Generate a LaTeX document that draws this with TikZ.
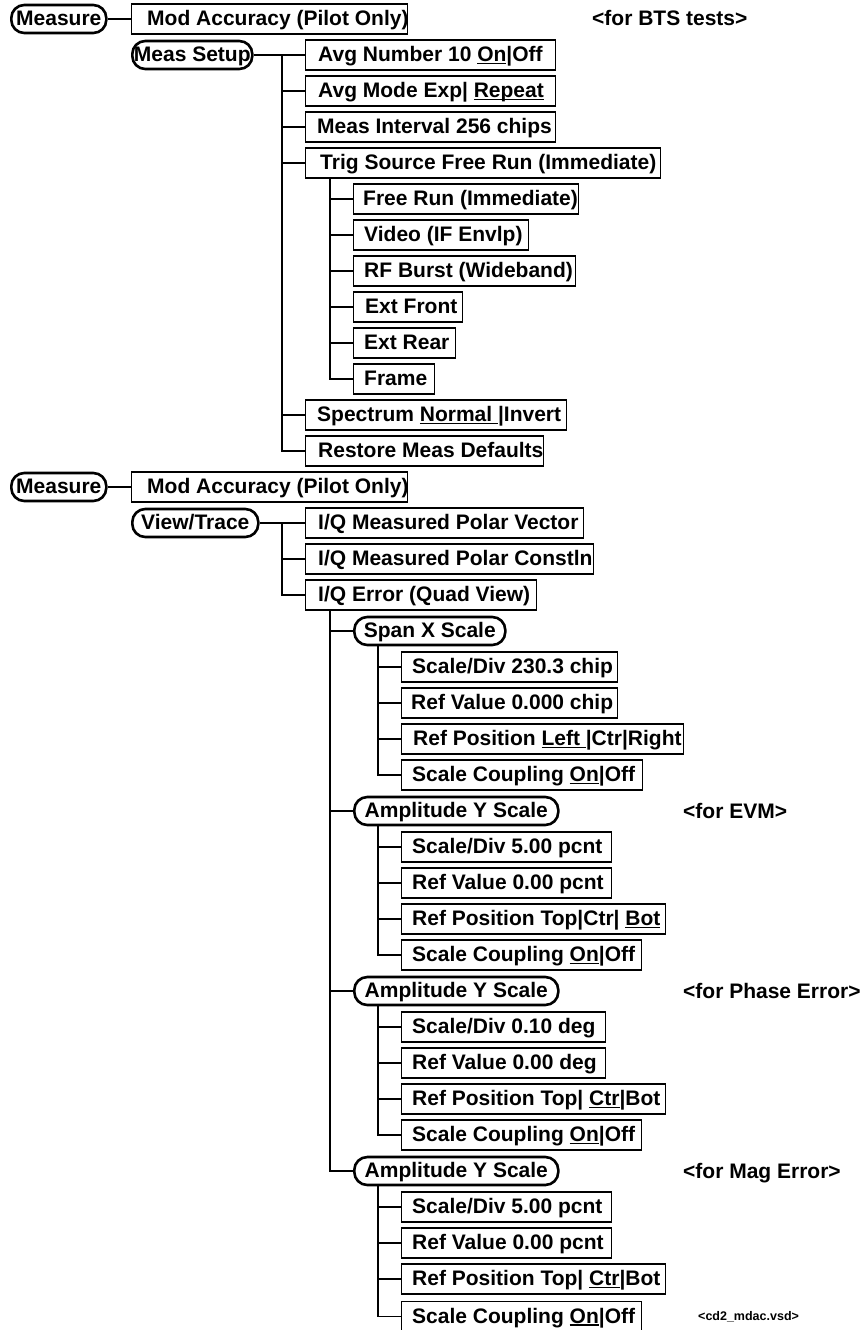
\documentclass[tikz,border=0pt]{standalone}
\usepackage{fontspec}
\setmainfont{Liberation Sans}

% underline with a fixed rule below the baseline
\newcommand\uln[1]{\setbox0\hbox{#1}\rlap{\rule[-2.6pt]{\wd0}{1.2pt}}\box0}

% square menu item: [text inset]{name}{left x}{right x}{centre y}{text}
\newcommand\mitem[6][12]{%
  \node[box, minimum width={#4-#3}] (#2) at (#3,#5) {};
  \node[txt] (#2-t) at ([xshift=#1pt,yshift=-6.5pt]#2.west) {#6};}

% rounded menu key: {name}{left x}{right x}{centre y}{text}
\newcommand\mpill[5]{%
  \node[pill, minimum width={#3-#2}] (#1) at (#2,#4) {#5};}

\begin{document}
\begin{tikzpicture}[x=1pt,y=-1pt,
  font=\fontsize{21}{24}\selectfont\bfseries,
  box/.style={draw, line width=1.3pt, minimum height=30pt, inner sep=0pt, anchor=west},
  pill/.style={draw, line width=2.6pt, rounded corners=13pt, minimum height=28pt,
               inner sep=0pt, anchor=west, text height=14pt, text depth=1pt},
  txt/.style={anchor=base west, inner sep=0pt},
  note/.style={anchor=base west, inner sep=0pt},
  wire/.style={line width=1.3pt}]
\useasboundingbox (0,0) rectangle (864,1330);
\clip (0,0) rectangle (864,1330);

% ---------- Measure / Meas Setup ----------
\mpill{m1}{10}{105}{19}{Measure}
\mitem[16]{mod1}{131}{407}{19}{Mod Accuracy (Pilot Only)}
\node[note] (bts) at (592,26) {<for BTS tests>};

\mpill{setup}{131}{251}{55}{Meas Setup}
\mitem[13]{avgn}{305}{555}{55}{Avg Number 10 \uln{On}|Off}
\mitem[13]{avgm}{305}{555}{91}{Avg Mode Exp| \uln{Repeat}}
\mitem[12]{intv}{305}{555}{127}{Meas Interval 256 chips}
\mitem[15]{trig}{305}{660}{163}{Trig Source Free Run (Immediate)}
\mitem[10]{frun}{353}{578}{199}{Free Run (Immediate)}
\mitem[11]{video}{353}{528}{235}{Video (IF Envlp)}
\mitem[11]{rfb}{353}{575}{271}{RF Burst (Wideband)}
\mitem[12]{extf}{353}{462}{307}{Ext Front}
\mitem[11]{extr}{353}{455}{343}{Ext Rear}
\mitem[11]{frame}{353}{434}{379}{Frame}
\mitem[12]{spec}{305}{566}{415}{Spectrum \uln{Normal\ }|Invert}
\mitem[13]{restore}{305}{543}{451}{Restore Meas Defaults}

\draw[wire] (m1.east) -- (mod1.west);
\draw[wire] (setup.east) -- (avgn.west);
\coordinate (ta) at (282,55);
\draw[wire] (ta) |- (restore.west);
\foreach \n in {avgm,intv,trig,spec} \draw[wire] (ta |- \n.west) -- (\n.west);
\coordinate (tb) at (330,0);
\draw[wire] (tb |- trig.south) |- (frame.west);
\foreach \n in {frun,video,rfb,extf,extr} \draw[wire] (tb |- \n.west) -- (\n.west);

% ---------- Measure / View/Trace ----------
\mpill{m2}{10}{105}{487}{Measure}
\mitem[16]{mod2}{131}{407}{487}{Mod Accuracy (Pilot Only)}
\mpill{view}{131}{257}{523}{View/Trace}
\mitem[13]{iqv}{305}{583}{523}{I/Q Measured Polar Vector}
\mitem[13]{iqc}{305}{593}{559}{I/Q Measured Polar Constln}
\mitem[13]{iqe}{305}{536}{595}{I/Q Error (Quad View)}

\draw[wire] (m2.east) -- (mod2.west);
\draw[wire] (view.east) -- (iqv.west);
\coordinate (tc) at (282,523);
\draw[wire] (tc) |- (iqe.west);
\draw[wire] (tc |- iqc.west) -- (iqc.west);

% Span X Scale
\mpill{spanx}{353}{504}{631}{Span X Scale}
\mitem[11]{sxdiv}{401}{617}{667}{Scale/Div 230.3 chip}
\mitem[10]{sxref}{401}{617}{703}{Ref Value 0.000 chip}
\mitem[12]{sxpos}{401}{683}{739}{Ref Position \uln{Left\ }|Ctr|Right}
\mitem[11]{sxcpl}{401}{642}{775}{Scale Coupling \uln{On}|Off}

% Amplitude Y Scale, EVM
\mpill{ampe}{353}{557}{811}{Amplitude Y Scale}
\node[note] (evm) at (683,818) {<for EVM>};
\mitem[11]{ediv}{401}{611}{847}{Scale/Div 5.00 pcnt}
\mitem[11]{eref}{401}{611}{883}{Ref Value 0.00 pcnt}
\mitem[11]{epos}{401}{665}{919}{Ref Position Top|Ctr| \uln{Bot}}
\mitem[11]{ecpl}{401}{641}{955}{Scale Coupling \uln{On}|Off}

% Amplitude Y Scale, phase error
\mpill{ampp}{353}{557}{991}{Amplitude Y Scale}
\node[note] (phe) at (683,998) {<for Phase Error>};
\mitem[11]{pdiv}{401}{605}{1027}{Scale/Div 0.10 deg}
\mitem[11]{pref}{401}{605}{1063}{Ref Value 0.00 deg}
\mitem[11]{ppos}{401}{665}{1099}{Ref Position Top| \uln{Ctr}|Bot}
\mitem[11]{pcpl}{401}{641}{1135}{Scale Coupling \uln{On}|Off}

% Amplitude Y Scale, magnitude error
\mpill{ampm}{353}{557}{1171}{Amplitude Y Scale}
\node[note] (mge) at (683,1178) {<for Mag Error>};
\mitem[11]{mdiv}{401}{611}{1207}{Scale/Div 5.00 pcnt}
\mitem[11]{mref}{401}{611}{1243}{Ref Value 0.00 pcnt}
\mitem[11]{mpos}{401}{665}{1279}{Ref Position Top| \uln{Ctr}|Bot}
\mitem[11]{mcpl}{401}{641}{1316.5}{Scale Coupling \uln{On}|Off}
\node[note, font=\fontsize{12.5}{14}\selectfont\bfseries] (file) at (698,1320) {<cd2\_mdac.vsd>};

% connectors of the I/Q Error sub-tree
\draw[wire] (tb |- iqe.south) |- (ampm.west);
\foreach \n in {spanx,ampe,ampp} \draw[wire] (tb |- \n.west) -- (\n.west);
\coordinate (td) at (378,0);
\draw[wire] (td |- spanx.south) |- (sxcpl.west);
\foreach \n in {sxdiv,sxref,sxpos} \draw[wire] (td |- \n.west) -- (\n.west);
\draw[wire] (td |- ampe.south) |- (ecpl.west);
\foreach \n in {ediv,eref,epos} \draw[wire] (td |- \n.west) -- (\n.west);
\draw[wire] (td |- ampp.south) |- (pcpl.west);
\foreach \n in {pdiv,pref,ppos} \draw[wire] (td |- \n.west) -- (\n.west);
\draw[wire] (td |- ampm.south) |- (mcpl.west);
\foreach \n in {mdiv,mref,mpos} \draw[wire] (td |- \n.west) -- (\n.west);
\end{tikzpicture}
\end{document}
